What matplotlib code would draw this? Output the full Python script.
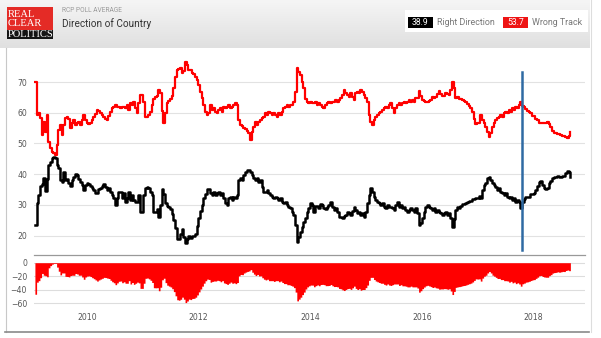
import numpy as np
import pandas as pd
import matplotlib
matplotlib.use('Agg')
import matplotlib.pyplot as plt
import matplotlib.dates as mdates
from matplotlib.patches import Rectangle
from matplotlib.colors import LinearSegmentedColormap

W, H = 601, 338

# RCP poll average, one reading about every 11 days from late Jan 2009
wrong_track = [
    70.1, 59.3, 59.8, 58.2, 52.7, 57.1, 53.8, 59.3, 50.6, 48.4,
    47.3, 46.8, 46.2, 49.5, 54.5, 56.0, 52.7, 56.0, 58.2, 58.7,
    58.0, 55.0, 56.5, 57.6, 56.0, 56.5, 57.0, 56.0, 57.6, 59.3,
    57.6, 56.8, 56.2, 56.5, 57.6, 58.5, 59.5, 60.9, 60.5, 59.8,
    59.3, 58.5, 57.9, 57.6, 58.8, 60.3, 61.4, 61.8, 62.5, 62.0,
    61.8,
    61.4, 61.7, 62.0, 61.4, 62.5, 60.9, 63.1, 62.5, 63.6, 61.4,
    59.8, 63.1, 65.8, 65.8, 63.6, 58.5, 58.6, 59.3, 60.3, 62.5,
    64.5, 65.0, 65.5, 67.5, 66.3, 60.5, 56.5, 60.0, 63.0, 63.8,
    64.4, 65.5, 68.0, 71.5, 73.8, 74.3, 74.6, 73.0, 73.5, 76.6,
    75.5, 73.9, 73.9, 72.8, 72.5, 71.5, 70.7, 69.0, 66.9, 64.7,
    62.5, 60.3, 59.3, 59.8,
    62.5, 60.9, 61.4, 60.3, 59.8, 60.9, 61.4, 60.3, 62.0, 61.4,
    62.0, 62.5, 61.4, 62.0, 62.5, 63.1, 62.5, 57.5, 56.0, 55.8,
    55.0, 54.7, 54.2, 53.5, 51.1, 53.8, 55.5, 57.1, 56.0, 57.1,
    57.6, 58.2, 58.7, 59.8, 59.3, 60.3, 59.8, 59.3, 59.8, 59.3,
    58.7, 59.8, 59.3, 60.3, 61.4, 62.0, 62.5, 62.0, 62.5, 62.5,
    63.6, 66.9, 74.5, 73.4,
    72.3, 70.1, 68.0, 64.5, 63.6, 63.1, 63.6, 63.1, 63.1, 63.6,
    62.5, 63.1, 62.5, 62.0, 61.4, 62.5, 63.1, 63.6, 63.1, 63.6,
    63.6, 64.1, 63.6, 64.1, 64.7, 65.8, 67.4, 66.3, 65.8, 65.2,
    66.3, 65.2, 64.1, 66.3, 66.9, 66.3, 67.4, 66.9, 65.8, 64.7,
    63.6, 59.3, 57.1, 56.0, 57.6, 58.7, 59.3, 59.8, 60.3, 60.9,
    61.4, 62.0, 61.4, 62.5,
    63.1, 61.4, 59.8, 61.4, 62.5, 63.1, 62.5, 63.1, 63.6, 63.1,
    63.6, 64.1, 63.6, 64.1, 63.6, 64.7, 64.7, 67.0, 65.5, 64.0,
    63.8, 63.6, 63.4, 63.8, 64.3, 65.0, 64.9, 65.0, 66.0, 67.0,
    66.0, 65.5, 65.5, 66.3, 66.0, 65.8, 67.5, 70.0, 68.0, 64.8,
    65.0, 64.5, 64.4, 64.2, 63.9, 63.6, 62.8, 62.3, 61.5, 60.3,
    58.0, 56.2, 56.5, 56.8,
    59.3, 57.6, 56.5, 55.5, 53.8, 52.2, 53.3, 55.5, 56.5, 57.6,
    58.2, 58.7, 59.3, 58.7, 59.8, 60.3, 59.8, 60.9, 60.3, 61.4,
    60.9, 62.0, 61.4, 62.5, 63.6, 62.2, 62.0, 61.2, 60.7, 60.1,
    59.8, 58.9, 58.8, 58.0, 57.6, 56.8, 56.8, 56.8, 56.8, 56.8,
    57.1, 56.2, 55.5, 54.0, 53.5, 53.5, 53.0, 53.0, 52.7, 52.4,
    52.5, 52.0, 51.9, 52.4, 53.7,
]
right_direction = [
    23.4, 30.5, 33.2, 36.0, 36.8, 38.6, 34.5, 38.5, 43.0, 44.1,
    45.1, 45.7, 45.1, 43.0, 41.9, 38.0, 37.5, 40.8, 38.0, 38.3,
    37.0, 36.0, 38.0, 39.0, 40.0, 39.8, 38.4, 37.5, 36.5, 34.8,
    36.5, 37.0, 36.7, 36.0, 35.4, 34.8, 34.0, 33.7, 35.0, 35.6,
    36.2, 36.8, 35.9, 34.8, 35.4, 34.3, 33.2, 32.1, 30.0, 32.1,
    34.3,
    34.3, 32.1, 33.7, 31.0, 32.1, 34.3, 31.6, 33.2, 31.6, 31.0,
    31.0, 33.2, 27.8, 27.8, 33.2, 35.4, 35.9, 35.4, 34.3, 33.2,
    27.5, 27.8, 28.5, 26.0, 30.0, 35.2, 33.5, 30.5, 29.7, 29.2,
    28.5, 27.0, 25.2, 22.5, 19.0, 18.8, 20.5, 22.0, 19.5, 17.6,
    18.8, 20.0, 19.3, 19.9, 19.8, 20.5, 23.0, 25.8, 28.0, 30.0,
    32.2, 33.6, 35.0, 35.0,
    33.7, 33.2, 34.3, 33.2, 33.7, 34.3, 33.2, 33.7, 32.1, 30.5,
    29.9, 32.1, 32.7, 31.6, 32.7, 32.1, 33.2, 38.0, 38.6, 38.1,
    39.7, 40.8, 41.3, 41.3, 40.8, 39.7, 38.6, 38.1, 38.6, 37.5,
    38.1, 35.9, 34.3, 34.3, 34.8, 33.7, 33.2, 32.7, 32.1, 32.7,
    32.1, 31.6, 32.1, 31.0, 30.5, 31.0, 29.9, 29.4, 28.9, 27.8,
    26.7, 23.4, 18.0, 19.5,
    21.3, 22.9, 24.5, 25.6, 27.8, 28.9, 30.5, 29.9, 27.5, 29.6,
    29.6, 29.0, 30.2, 29.9, 28.9, 28.5, 29.2, 29.9, 30.8, 29.4,
    28.3, 28.9, 27.8, 26.0, 26.1, 25.6, 26.2, 26.7, 27.5, 27.2,
    26.8, 28.0, 29.4, 28.3, 27.2, 27.8, 26.7, 27.2, 26.1, 27.8,
    30.5, 33.2, 35.4, 34.3, 32.7, 31.6, 31.0, 30.5, 29.9, 30.5,
    29.4, 28.9, 29.9, 29.4,
    29.4, 28.9, 28.3, 29.9, 31.0, 29.4, 29.9, 28.9, 29.4, 28.3,
    27.8, 28.3, 28.9, 28.3, 27.8, 28.9, 27.2, 23.4, 24.0, 25.6,
    27.8, 29.4, 29.9, 29.4, 28.9, 28.3, 28.9, 27.8, 28.3, 27.8,
    27.2, 26.7, 27.2, 27.8, 26.7, 27.2, 25.6, 22.9, 25.5, 28.3,
    29.2, 29.1, 29.5, 30.2, 30.2, 30.6, 30.8, 31.2, 31.3, 31.8,
    31.8, 32.3, 32.3, 32.9,
    32.1, 34.8, 36.5, 37.0, 38.6, 39.2, 38.1, 37.0, 36.5, 35.9,
    34.8, 35.4, 34.3, 33.7, 33.2, 33.7, 32.7, 32.1, 32.7, 31.6,
    32.1, 31.0, 31.6, 31.0, 28.9, 31.0, 31.8, 32.4, 32.4, 32.6,
    33.4, 33.5, 33.8, 34.8, 36.2, 37.5, 37.9, 36.4, 35.6, 35.3,
    35.6, 37.0, 37.8, 38.6, 38.9, 39.2, 39.5, 38.9, 39.2, 39.5,
    39.4, 40.5, 41.1, 40.6, 38.9,
]

latest_right = 38.9
latest_wrong = 53.7
marker_date = '2017-10-19'

dates = pd.date_range('2009-01-25', periods=len(wrong_track), freq='262h')
spread = np.array(right_direction) - np.array(wrong_track)

RED = '#ff0000'
x_range = (pd.Timestamp('2009-01-19'), pd.Timestamp('2018-12-04'))


def px_rect(left, top, right, bottom):
    """axes rectangle from pixel edges (origin top-left)"""
    return [left / W, 1 - bottom / H, (right - left) / W, (bottom - top) / H]


fig = plt.figure(figsize=(W / 100, H / 100), dpi=100)
fig.patch.set_facecolor('white')

# page layer: header band, logo, legend chips and frame
page = fig.add_axes([0, 0, 1, 1], zorder=0)
hdr_cmap = LinearSegmentedColormap.from_list('hdr', ['#f5f5f5', '#e0e0e0'])
page.imshow(np.linspace(0, 1, 50).reshape(-1, 1), cmap=hdr_cmap,
            extent=(0, 590, 48, 0), aspect='auto', zorder=0)
page.set_xlim(0, W)
page.set_ylim(H, 0)
page.axis('off')

page.plot([5.5, 5.5], [48, 332], color='#c8c8c8', lw=0.8)
page.plot([5, 589], [332, 332], color='#8a8a8a', lw=1.2)
page.plot([590.5, 590.5], [0, 332], color='#dddddd', lw=0.8)

# logo
page.add_patch(Rectangle((7, 7), 46, 23, color='#e42b26', lw=0))
page.add_patch(Rectangle((7, 30), 46, 8.5, color='#151515', lw=0))
logo_font = dict(family='Liberation Serif', size=7.6, color='white', va='center')
page.text(8, 14.5, 'REAL', **logo_font)
page.text(8, 23, 'CLEAR', **logo_font)
page.text(8, 34.5, 'POLITICS', **logo_font)

page.text(62, 10.5, 'RCP POLL AVERAGE', family='Roboto', size=4.8,
          color='#9a9a9a', va='center')
page.text(62, 24, 'Direction of Country', family='Roboto', size=7.2,
          color='#333333', va='center')

# legend with latest values
page.add_patch(Rectangle((405, 10), 183, 22, facecolor='white', lw=0))
page.add_patch(Rectangle((408, 16.5), 25, 11.5, color='black', lw=0))
page.text(420.5, 22.3, f'{latest_right}', family='Roboto', size=6.2,
          color='white', ha='center', va='center')
page.text(437, 22.3, 'Right Direction', family='Roboto', size=6.4,
          color='#777777', va='center')
page.add_patch(Rectangle((503, 16.5), 25, 11.5, color='#ee1414', lw=0))
page.text(515.5, 22.3, f'{latest_wrong}', family='Roboto', size=6.2,
          color='white', ha='center', va='center')
page.text(532, 22.3, 'Wrong Track', family='Roboto', size=6.4,
          color='#777777', va='center')

# main panel
ax = fig.add_axes(px_rect(34, 51, 585, 253), zorder=1)
ax.patch.set_alpha(0)
ax.plot(dates, wrong_track, color=RED, lw=1.6, drawstyle='steps-post')
ax.plot(dates, right_direction, color='black', lw=1.8, drawstyle='steps-post')
ax.axvline(pd.Timestamp(marker_date), ymin=0.015, ymax=0.896,
           color='#2f6aa3', lw=1.8)
ax.set_xlim(*x_range)
ax.set_ylim(14.3, 80.1)
ax.set_yticks([20, 30, 40, 50, 60, 70])
ax.set_xticks([])
ax.grid(axis='y', color='#e2e2e2', lw=0.8)
ax.set_axisbelow(True)
ax.tick_params(length=0, labelsize=5.6, colors='#555555', pad=5)
for s in ax.spines.values():
    s.set_visible(False)

# spread panel (right direction minus wrong track)
ax2 = fig.add_axes(px_rect(34, 255, 585, 305), zorder=1)
ax2.patch.set_alpha(0)
ax2.fill_between(dates, spread, 0, color=RED, lw=0, step='post')
ax2.set_xlim(*x_range)
ax2.set_ylim(-62.6, 11.4)
ax2.set_yticks([0, -20, -40, -60])
ax2.grid(axis='y', color='#dddddd', lw=0.8)
ax2.set_axisbelow(True)
ax2.xaxis.set_major_locator(mdates.YearLocator(2))
ax2.xaxis.set_major_formatter(mdates.DateFormatter('%Y'))
ax2.tick_params(length=0, labelsize=5.6, colors='#555555', pad=5)
ax2.tick_params(axis='x', pad=6)
for name, s in ax2.spines.items():
    s.set_visible(name == 'top')
ax2.spines['top'].set_color('#999999')
ax2.spines['top'].set_linewidth(0.9)

fig.savefig('out.png', dpi=100)
